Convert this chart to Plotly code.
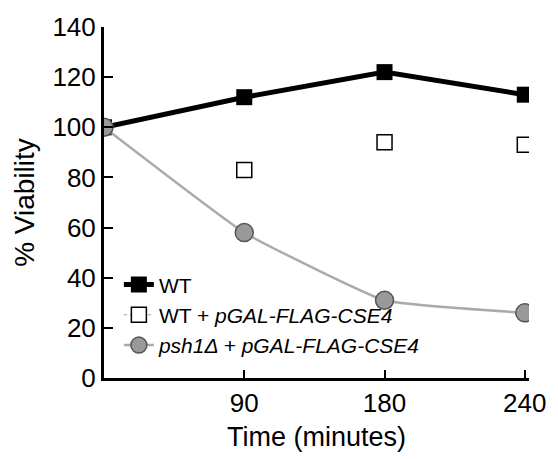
import plotly.graph_objects as go

time_labels = ["0", "90", "180", "240"]
time_pos = [0, 1, 2, 3]
wt = [100, 112, 122, 113]
wt_gal = [None, 83, 94, 93]
psh1_gal = [100, 58, 31, 26]

fig = go.Figure()
fig.add_trace(go.Scatter(
    x=time_pos, y=wt, mode="lines+markers", name="WT",
    line=dict(color="black", width=5),
    marker=dict(symbol="square", size=16, color="black"),
    legendgroup="a"))
fig.add_trace(go.Scatter(
    x=time_pos, y=wt_gal, mode="markers", name="WT + <i>pGAL-FLAG-CSE4</i>",
    marker=dict(symbol="square", size=15, color="white", line=dict(color="black", width=1.5)),
    showlegend=False))
fig.add_trace(go.Scatter(
    x=[None], y=[None], mode="lines+markers", name="WT + <i>pGAL-FLAG-CSE4</i>",
    line=dict(color="#999999", width=1, dash="dot"),
    marker=dict(symbol="square", size=15, color="white", line=dict(color="black", width=1.5)),
    legendgroup="b"))
fig.add_trace(go.Scatter(
    x=time_pos, y=psh1_gal, mode="lines+markers", name="<i>psh1Δ + pGAL-FLAG-CSE4</i>",
    line=dict(color="#aaaaaa", width=2.5, shape="spline", smoothing=0.35),
    marker=dict(symbol="circle", size=18, color="#999999", line=dict(color="#555555", width=1.5)),
    legendgroup="c"))

fig.update_layout(
    width=558, height=459,
    margin=dict(l=104, r=18, t=22, b=77),
    plot_bgcolor="white", paper_bgcolor="white",
    font=dict(family="Liberation Sans, Arial, sans-serif", color="black"),
    showlegend=True,
    legend=dict(x=0.035, y=0.18, xanchor="left", yanchor="middle",
                font=dict(size=21), tracegroupgap=0, bgcolor="rgba(0,0,0,0)"),
    xaxis=dict(range=[0, 3.03], tickvals=time_pos[1:], ticktext=time_labels[1:],
               showline=True, linecolor="black", linewidth=3, ticks="inside",
               ticklen=8, tickwidth=2, tickcolor="black", showgrid=False, zeroline=False,
               tickfont=dict(size=26),
               title=dict(text="Time (minutes)", font=dict(size=27), standoff=10)),
    yaxis=dict(range=[0, 140], tickvals=[0, 20, 40, 60, 80, 100, 120, 140],
               showline=True, linecolor="black", linewidth=3, ticks="inside",
               ticklen=9, tickwidth=2, tickcolor="black", showgrid=False, zeroline=False,
               tickfont=dict(size=26),
               title=dict(text="% Viability", font=dict(size=28), standoff=10)),
)
fig.write_html("out.html", config={"displayModeBar": False},
               post_script="document.body.style.margin='0';")
